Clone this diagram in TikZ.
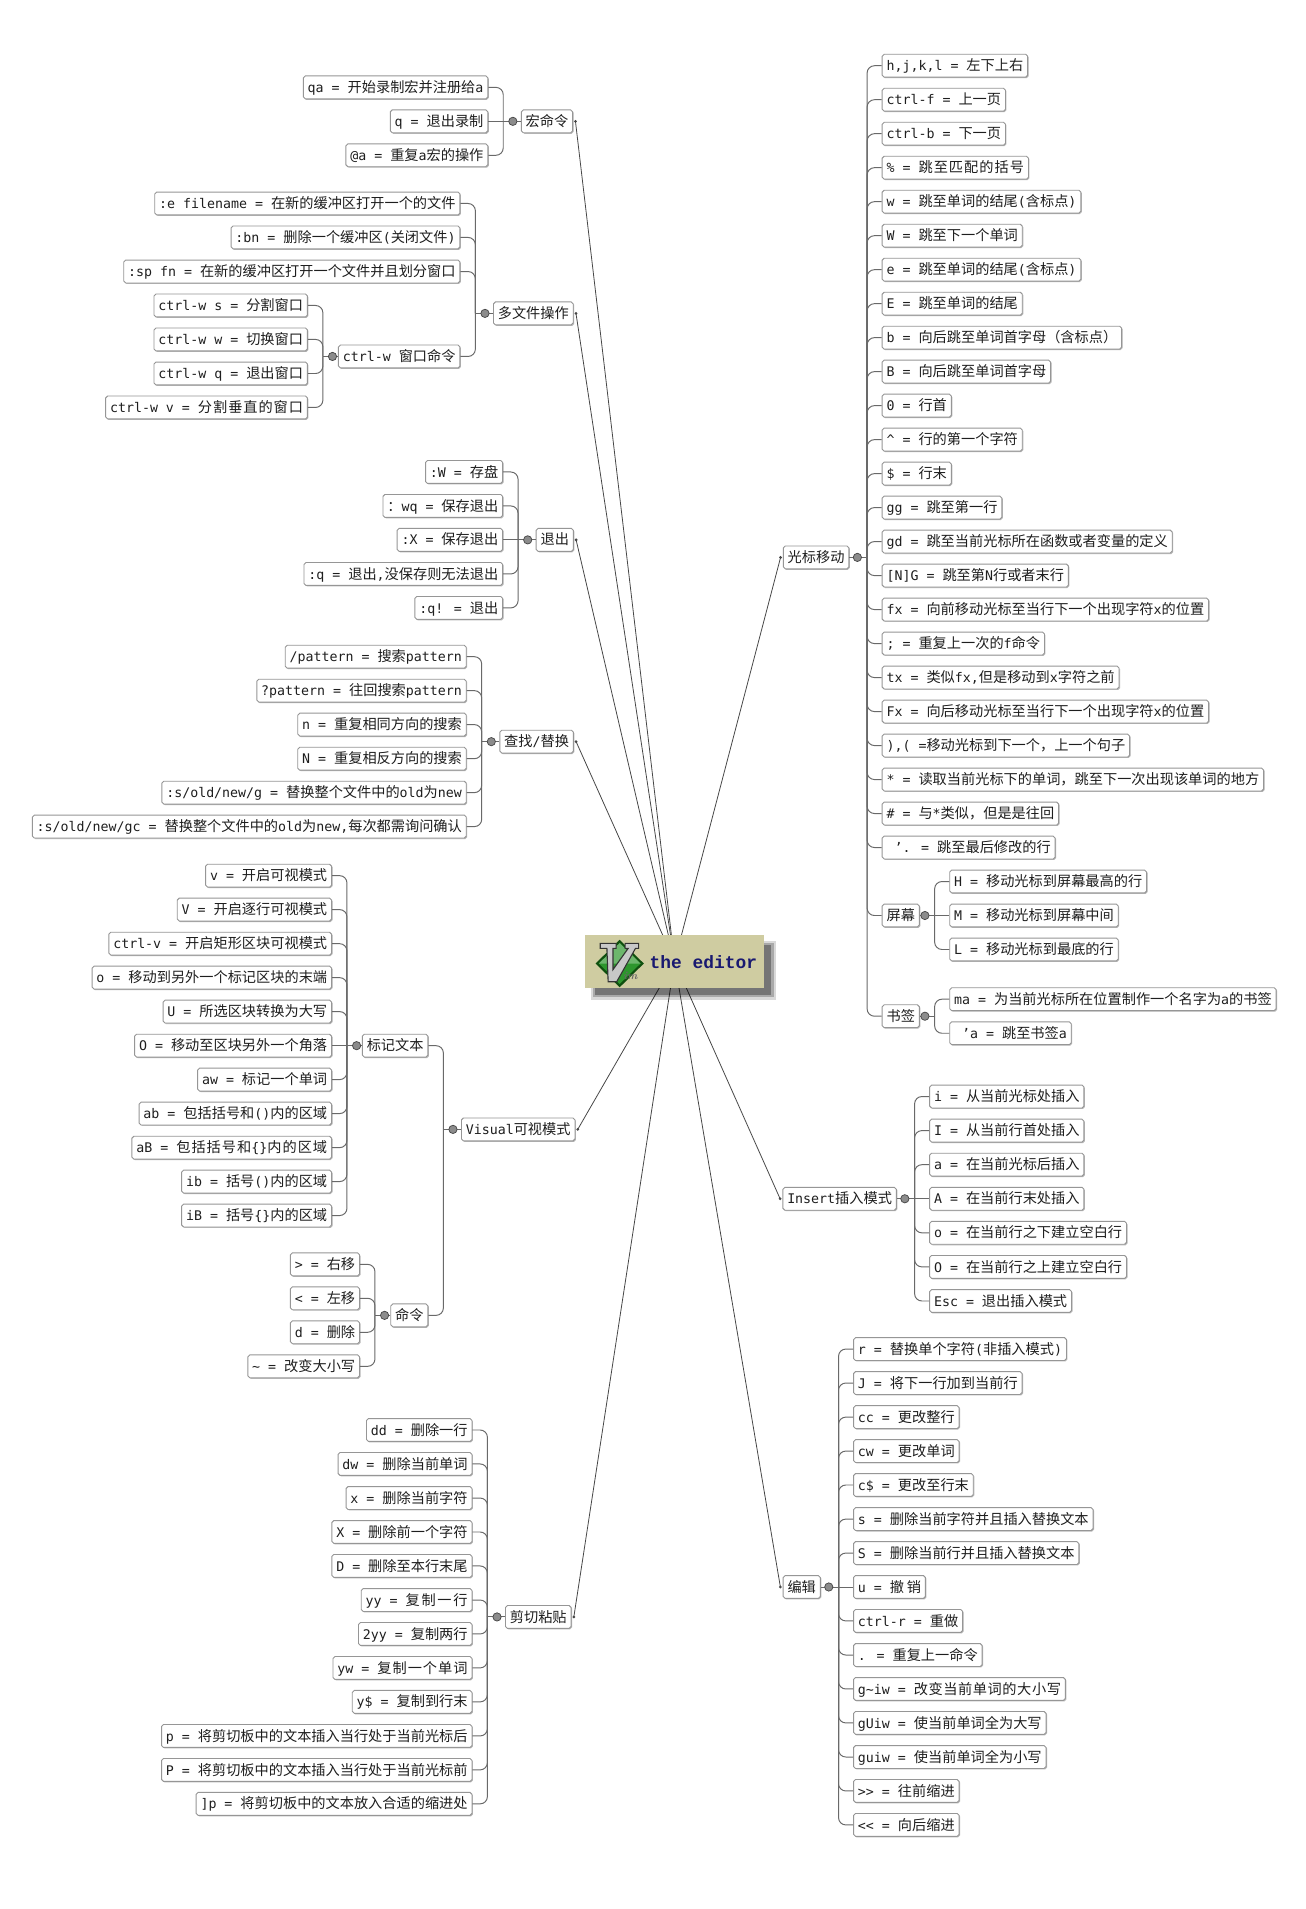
\documentclass[tikz,border=0pt]{standalone}
\usepackage{fontspec}
\usetikzlibrary{shadows,backgrounds}
\newfontfamily\cjkfont{Noto Sans CJK SC}[Scale=1.08]
\newfontfamily\mfont{DejaVu Sans Mono}[Scale=1.01]
\newfontfamily\edfont{Liberation Mono}
% automatic font switching between Latin (mono) and CJK
\XeTeXinterchartokenstate=1
\ifdefined\newXeTeXintercharclass
  \newXeTeXintercharclass\CJKcls
\else
  \chardef\CJKcls=9
\fi
\newcount\cjkcnt
\def\setclassrange#1#2#3{\cjkcnt=#1\relax
  \loop\XeTeXcharclass\cjkcnt=#3\relax
  \ifnum\cjkcnt<#2\relax\advance\cjkcnt by 1\relax\repeat}
\setclassrange{"21}{"7E}{0}
\setclassrange{"3000}{"303F}{\CJKcls}
\setclassrange{"4E00}{"9FFF}{\CJKcls}
\setclassrange{"FF00}{"FFEF}{\CJKcls}
\XeTeXcharclass"2019=0
\XeTeXinterchartoks 0 \CJKcls={\cjkfont}
\XeTeXinterchartoks 4095 \CJKcls={\cjkfont}
\XeTeXinterchartoks \CJKcls 0={\mfont}
\XeTeXinterchartoks \CJKcls 4095={\mfont}
\XeTeXinterchartoks \CJKcls \CJKcls={\hskip 0pt plus 1fil\relax}
% box content fitted to a measured width
\newsavebox\fitbox
\newlength\fitdim
\newcommand\fitw[2]{%
  \setlength\fitdim{#1}%
  \sbox\fitbox{#2}%
  \ifdim\wd\fitbox<\fitdim
    \ifdim\fitdim<1.2\wd\fitbox
      \hbox to\fitdim{\unhcopy\fitbox}%
    \else
      \hbox to\fitdim{\unhcopy\fitbox\hskip 0pt plus 1fill}%
    \fi
  \else
    \usebox\fitbox
  \fi}
\definecolor{boxline}{RGB}{150,150,150}
\definecolor{conncol}{RGB}{105,105,105}
\definecolor{spokecol}{RGB}{70,70,70}
\definecolor{knobfill}{RGB}{140,140,140}
\definecolor{knobline}{RGB}{70,70,70}
\definecolor{khaki}{RGB}{207,204,161}
\definecolor{navy}{RGB}{25,25,112}
\definecolor{vgreen}{RGB}{45,150,45}
\definecolor{vdark}{RGB}{15,80,15}
\definecolor{vgray}{RGB}{200,200,200}
\definecolor{txt}{RGB}{30,30,30}
\tikzset{
  box/.style={draw=boxline, fill=white, rounded corners=1.6pt, line width=0.75pt,
    inner xsep=3.6pt, inner ysep=0pt, minimum height=18.8pt,
    text height=9.8pt, text depth=1.4pt, text=txt,
    font=\fontsize{10.8}{13}\mfont,
    drop shadow={shadow xshift=0.8pt, shadow yshift=-0.8pt, fill=black!35, opacity=0.8}},
  conn/.style={draw=conncol, line width=0.8pt, rounded corners=6pt},
  spoke/.style={draw=spokecol, line width=0.65pt},
  knob/.style={circle, draw=knobline, fill=knobfill, line width=0.6pt, minimum size=6.8pt, inner sep=0pt}
}
% east-anchored box: name, east x, y, west x, text
\newcommand\EN[5]{\node[box,anchor=east] (#1) at (#2,#3) {\fitw{\dimexpr #2pt-#4pt-7.2pt\relax}{#5}};}
% west-anchored box: name, west x, y, east x, text
\newcommand\WN[5]{\node[box,anchor=west] (#1) at (#2,#3) {\fitw{\dimexpr #4pt-#2pt-7.2pt\relax}{#5}};}
% left group: parent, children edge E, parent y
\newcommand\Lpar[3]{\draw[conn] (#1.west) -- ({#2+12.3},#3);
  \node[knob] (k-#1) at ({#2+20.2},#3) {};}
\newcommand\Lkids[3]{\foreach \kid in {#3} {\draw[conn] ({#1+12.3},#2) |- (\kid.east);}}
\newcommand\Lflat[3]{\draw[conn] ({#1+12.3},#2) -- (#3.east);}
% right group: parent, children edge C, parent y
\newcommand\Rpar[3]{\draw[conn] (#1.east) -- ({#2-12},#3);
  \node[knob] (k-#1) at ({#2-20},#3) {};}
\newcommand\Rkids[3]{\foreach \kid in {#3} {\draw[conn] ({#1-12},#2) |- (\kid.west);}}
\newcommand\Rflat[3]{\draw[conn] ({#1-12},#2) -- (#3.west);}
\newcommand\dotE[1]{\coordinate (d-#1) at ([xshift=1.9pt]#1.east); \fill[spokecol] (d-#1) circle (1.25pt);}
\newcommand\dotW[1]{\coordinate (d-#1) at ([xshift=-1.9pt]#1.west); \fill[spokecol] (d-#1) circle (1.25pt);}
\begin{document}
\begin{tikzpicture}[x=1pt,y=-1pt]
\useasboundingbox (0,0) rectangle (1073.1,1568.6);
\coordinate (ctr) at (554.25,790.05);

% ================= LEFT =================
% 宏命令
\WN{mac}{428}{99.7}{469}{宏命令}
\EN{m1}{401.2}{71.8}{252}{qa = 开始录制宏并注册给a}
\EN{m2}{401.2}{99.7}{322.5}{q = 退出录制}
\EN{m3}{401.2}{127.6}{286}{@a = 重复a宏的操作}
\Lpar{mac}{401.2}{99.7}
\Lkids{401.2}{99.7}{m1,m3}
\Lflat{401.2}{99.7}{m2}

% 多文件操作
\WN{mf}{405.1}{257.5}{469}{多文件操作}
\EN{f1}{378.3}{167.2}{130}{:e filename = 在新的缓冲区打开一个的文件}
\EN{f2}{378.3}{195.1}{192.4}{:bn = 删除一个缓冲区(关闭文件)}
\EN{f3}{378.3}{223.1}{104.9}{:sp fn = 在新的缓冲区打开一个文件并且划分窗口}
\EN{cw}{378.3}{292.9}{279.5}{ctrl-w 窗口命令}
\Lpar{mf}{378.3}{257.5}
\Lkids{378.3}{257.5}{f1,f2,f3,cw}
\EN{w1}{253}{251.0}{128.2}{ctrl-w s = 分割窗口}
\EN{w2}{253}{278.9}{128.2}{ctrl-w w = 切换窗口}
\EN{w3}{253}{306.9}{128.2}{ctrl-w q = 退出窗口}
\EN{w4}{253}{334.8}{87.2}{ctrl-w v = 分割垂直的窗口}
\Lpar{cw}{253}{292.9}
\Lkids{253}{292.9}{w1,w2,w3,w4}

% 退出
\WN{qt}{440.2}{443.6}{469}{退出}
\EN{q1}{413.4}{387.8}{351}{:W = 存盘}
\EN{q2}{413.4}{415.7}{316.4}{：wq = 保存退出}
\EN{q3}{413.4}{443.6}{328}{:X = 保存退出}
\EN{q4}{413.4}{471.6}{252.2}{:q = 退出,没保存则无法退出}
\EN{q5}{413.4}{499.5}{344.4}{:q! = 退出}
\Lpar{qt}{413.4}{443.6}
\Lkids{413.4}{443.6}{q1,q2,q4,q5}
\Lflat{413.4}{443.6}{q3}

% 查找/替换
\WN{fr}{410.3}{609.4}{469}{查找/替换}
\EN{s1}{383.5}{539.6}{235.4}{/pattern = 搜索pattern}
\EN{s2}{383.5}{567.5}{212.2}{?pattern = 往回搜索pattern}
\EN{s3}{383.5}{595.4}{246.7}{n = 重复相同方向的搜索}
\EN{s4}{383.5}{623.4}{246.7}{N = 重复相反方向的搜索}
\EN{s5}{383.5}{651.3}{135}{:s/old/new/g = 替换整个文件中的old为new}
\EN{s6}{383.5}{679.2}{29.4}{:s/old/new/gc = 替换整个文件中的old为new,每次都需询问确认}
\Lpar{fr}{383.5}{609.4}
\Lkids{383.5}{609.4}{s1,s2,s3,s4,s5,s6}

% Visual可视模式
\WN{vis}{378.8}{928}{470}{Visual可视模式}
\EN{mk}{352}{859.2}{299.5}{标记文本}
\EN{cmd}{352}{1080.8}{322.5}{命令}
\Lpar{vis}{352}{928}
\Lkids{352}{928}{mk,cmd}
\EN{v1}{272.8}{719.5}{170.2}{v = 开启可视模式}
\EN{v2}{272.8}{747.4}{146.9}{V = 开启逐行可视模式}
\EN{v3}{272.8}{775.4}{90.6}{ctrl-v = 开启矩形区块可视模式}
\EN{v4}{272.8}{803.3}{77.6}{o = 移动到另外一个标记区块的末端}
\EN{v5}{272.8}{831.2}{135.5}{U = 所选区块转换为大写}
\EN{v6}{272.8}{859.2}{112.2}{O = 移动至区块另外一个角落}
\EN{v7}{272.8}{887.1}{163.7}{aw = 标记一个单词}
\EN{v8}{272.8}{915.0}{115.6}{ab = 包括括号和()内的区域}
\EN{v9}{272.8}{943.0}{108.8}{aB = 包括括号和\{\}内的区域}
\EN{v10}{272.8}{970.9}{150.3}{ib = 括号()内的区域}
\EN{v11}{272.8}{998.8}{150.3}{iB = 括号\{\}内的区域}
\Lpar{mk}{272.8}{859.2}
\Lkids{272.8}{859.2}{v1,v2,v3,v4,v5,v7,v8,v9,v10,v11}
\Lflat{272.8}{859.2}{v6}
\EN{c1}{295.8}{1038.9}{239.8}{> = 右移}
\EN{c2}{295.8}{1066.8}{239.8}{< = 左移}
\EN{c3}{295.8}{1094.7}{239.8}{d = 删除}
\EN{c4}{295.8}{1122.7}{205.2}{\textasciitilde{} = 改变大小写}
\Lpar{cmd}{295.8}{1080.8}
\Lkids{295.8}{1080.8}{c1,c2,c3,c4}

% 剪切粘贴
\WN{cp}{415}{1328.6}{467}{剪切粘贴}
\EN{p1}{388.2}{1175.0}{303.7}{dd = 删除一行}
\EN{p2}{388.2}{1202.9}{280.8}{dw = 删除当前单词}
\EN{p3}{388.2}{1230.9}{287.2}{x = 删除当前字符}
\EN{p4}{388.2}{1258.8}{275.8}{X = 删除前一个字符}
\EN{p5}{388.2}{1286.7}{275.8}{D = 删除至本行末尾}
\EN{p6}{388.2}{1314.7}{297.2}{yy = 复制一行}
\EN{p7}{388.2}{1342.6}{297.2}{2yy = 复制两行}
\EN{p8}{388.2}{1370.5}{274}{yw = 复制一个单词}
\EN{p9}{388.2}{1398.4}{292.2}{y\$ = 复制到行末}
\EN{p10}{388.2}{1426.4}{138}{p = 将剪切板中的文本插入当行处于当前光标后}
\EN{p11}{388.2}{1454.3}{138}{P = 将剪切板中的文本插入当行处于当前光标前}
\EN{p12}{388.2}{1482.2}{166.1}{]p = 将剪切板中的文本放入合适的缩进处}
\Lpar{cp}{388.2}{1328.6}
\Lkids{388.2}{1328.6}{p1,p2,p3,p4,p5,p6,p7,p8,p9,p10,p11,p12}

% ================= RIGHT =================
% 光标移动
\EN{cur}{697.9}{458}{647.5}{光标移动}
\WN{k0}{724.5}{54.0}{843}{h,j,k,l = 左下上右}
\WN{k1}{724.5}{81.93}{825}{ctrl-f = 上一页}
\WN{k2}{724.5}{109.86}{825}{ctrl-b = 下一页}
\WN{k3}{724.5}{137.79}{844.7}{\% = 跳至匹配的括号}
\WN{k4}{724.5}{165.72}{885.7}{w = 跳至单词的结尾(含标点)}
\WN{k5}{724.5}{193.65}{837.8}{W = 跳至下一个单词}
\WN{k6}{724.5}{221.58}{885.7}{e = 跳至单词的结尾(含标点)}
\WN{k7}{724.5}{249.51}{837.8}{E = 跳至单词的结尾}
\WN{k8}{724.5}{277.44}{918.8}{b = 向后跳至单词首字母（含标点）}
\WN{k9}{724.5}{305.37}{860.9}{B = 向后跳至单词首字母}
\WN{k10}{724.5}{333.3}{780.3}{0 = 行首}
\WN{k11}{724.5}{361.23}{837.8}{\textasciicircum{} = 行的第一个字符}
\WN{k12}{724.5}{389.16}{780.3}{\$ = 行末}
\WN{k13}{724.5}{417.09}{821.6}{gg = 跳至第一行}
\WN{k14}{724.5}{445.02}{960.1}{gd = 跳至当前光标所在函数或者变量的定义}
\WN{k15}{724.5}{472.95}{876}{[N]G = 跳至第N行或者末行}
\WN{k16}{724.5}{500.88}{989.7}{fx = 向前移动光标至当行下一个出现字符x的位置}
\WN{k17}{724.5}{528.81}{856}{; = 重复上一次的f命令}
\WN{k18}{724.5}{556.74}{917}{tx = 类似fx,但是移动到x字符之前}
\WN{k19}{724.5}{584.67}{989.7}{Fx = 向后移动光标至当行下一个出现字符x的位置}
\WN{k20}{724.5}{612.6}{925.3}{),( =移动光标到下一个，上一个句子}
\WN{k21}{724.5}{640.53}{1033.8}{* = 读取当前光标下的单词，跳至下一次出现该单词的地方}
\WN{k22}{724.5}{668.46}{867.4}{\# = 与*类似，但是是往回}
\WN{k23}{724.5}{696.39}{860.9}{\ ’. = 跳至最后修改的行}
\WN{scr}{724.5}{752.25}{753.7}{屏幕}
\WN{bm}{724.5}{835}{753.7}{书签}
\Rpar{cur}{724.5}{458}
\Rkids{724.5}{458}{k0,k1,k2,k3,k4,k5,k6,k7,k8,k9,k10,k11,k12,k13,k14,k15,k16,k17,k18,k19,k20,k21,k22,k23,scr,bm}
\WN{h1}{780}{724.32}{939.4}{H = 移动光标到屏幕最高的行}
\WN{h2}{780}{752.25}{916.7}{M = 移动光标到屏幕中间}
\WN{h3}{780}{780.18}{916.7}{L = 移动光标到最底的行}
\Rpar{scr}{780}{752.25}
\Rkids{780}{752.25}{h1,h3}
\Rflat{780}{752.25}{h2}
\WN{b1}{780}{821}{1045}{ma = 为当前光标所在位置制作一个名字为a的书签}
\WN{b2}{780}{849}{877.2}{\ ’a = 跳至书签a}
\Rpar{bm}{780}{835}
\Rkids{780}{835}{b1,b2}

% Insert插入模式
\EN{ins}{736.9}{985}{644.8}{Insert插入模式}
\WN{i1}{763.5}{901}{888.9}{i = 从当前光标处插入}
\WN{i2}{763.5}{929}{888.9}{I = 从当前行首处插入}
\WN{i3}{763.5}{957}{888.9}{a = 在当前光标后插入}
\WN{i4}{763.5}{985}{888.9}{A = 在当前行末处插入}
\WN{i5}{763.5}{1013}{922.9}{o = 在当前行之下建立空白行}
\WN{i6}{763.5}{1041}{922.9}{O = 在当前行之上建立空白行}
\WN{i7}{763.5}{1069}{878.7}{Esc = 退出插入模式}
\Rpar{ins}{763.5}{985}
\Rkids{763.5}{985}{i1,i2,i3,i5,i6,i7}
\Rflat{763.5}{985}{i4}

% 编辑
\EN{ed}{674.4}{1304}{646}{编辑}
\WN{e1}{701}{1108.5}{873}{r = 替换单个字符(非插入模式)}
\WN{e2}{701}{1136.4}{837}{J = 将下一行加到当前行}
\WN{e3}{701}{1164.4}{786}{cc = 更改整行}
\WN{e4}{701}{1192.3}{786}{cw = 更改单词}
\WN{e5}{701}{1220.2}{799}{c\$ = 更改至行末}
\WN{e6}{701}{1248.2}{896}{s = 删除当前字符并且插入替换文本}
\WN{e7}{701}{1276.1}{882}{S = 删除当前行并且插入替换文本}
\WN{e8}{701}{1304}{760}{u = 撤销}
\WN{e9}{701}{1331.9}{790}{ctrl-r = 重做}
\WN{e10}{701}{1359.9}{803}{. = 重复上一命令}
\WN{e11}{701}{1387.8}{875}{g\textasciitilde{}iw = 改变当前单词的大小写}
\WN{e12}{701}{1415.7}{857}{gUiw = 使当前单词全为大写}
\WN{e13}{701}{1443.7}{857}{guiw = 使当前单词全为小写}
\WN{e14}{701}{1471.6}{786}{>{}> = 往前缩进}
\WN{e15}{701}{1499.5}{786}{<{}< = 向后缩进}
\Rpar{ed}{701}{1304}
\Rkids{701}{1304}{e1,e2,e3,e4,e5,e6,e7,e9,e10,e11,e12,e13,e14,e15}
\Rflat{701}{1304}{e8}

% level-1 dots
\dotE{mac}\dotE{mf}\dotE{qt}\dotE{fr}\dotE{vis}\dotE{cp}
\dotW{cur}\dotW{ins}\dotW{ed}

% ================= CENTER =================
\foreach \e/\o in {2.5/0.15, 0.8/0.22, -1/0.3} {
  \fill[black, opacity=\o] ({487.7-\e},{775.3-\e}) rectangle ({634.8+\e},{818.8+\e});
}
\node[fill=khaki, minimum width=147.1pt, minimum height=43.5pt, inner sep=0pt] (editor) at (ctr) {};
\begin{scope}[shift={(509.2,791.7)}]
  \fill[vdark] (0,-19.5) -- (19.8,0) -- (0,19.5) -- (-19.8,0) -- cycle;
  \fill[vgreen] (0,-16.8) -- (17.1,0) -- (0,16.8) -- (-17.1,0) -- cycle;
  \fill[vgreen!70!white] (0,-16.8) -- (17.1,0) -- (0,0) -- (-17.1,0) -- cycle;
  \filldraw[fill=vgray, draw=black!80, line width=0.9pt, line join=miter]
    (-16,-16.5) -- (-3,-16.5) -- (-3,-12.5) -- (-5.5,-12.5) -- (-5.5,5) -- (7,-12.5) -- (4.5,-12.5) -- (4.5,-16.5)
    -- (15.5,-16.5) -- (15.5,-12.5) -- (13,-12.5) -- (-2.5,15) -- (-9.5,15) -- (-10.5,-12.5) -- (-16,-12.5) -- cycle;
\end{scope}
\node[inner sep=0pt, font=\fontsize{9}{9}\selectfont\itshape\bfseries, text=black!60] (imtxt) at (518,802) {im};
\node[inner sep=0pt, anchor=west, text=navy, font=\fontsize{14.7}{16}\edfont\bfseries] (edtxt) at (533.6,790.8) {the editor};

% ================= SPOKES (behind) =================
\begin{pgfonlayer}{background}
  \fill[white] (0,0) rectangle (1073.1,1568.6);
  \foreach \n in {mac,mf,qt,fr,vis,cp,cur,ins,ed} {\draw[spoke] (ctr) -- (d-\n);}
\end{pgfonlayer}
\end{tikzpicture}
\end{document}
